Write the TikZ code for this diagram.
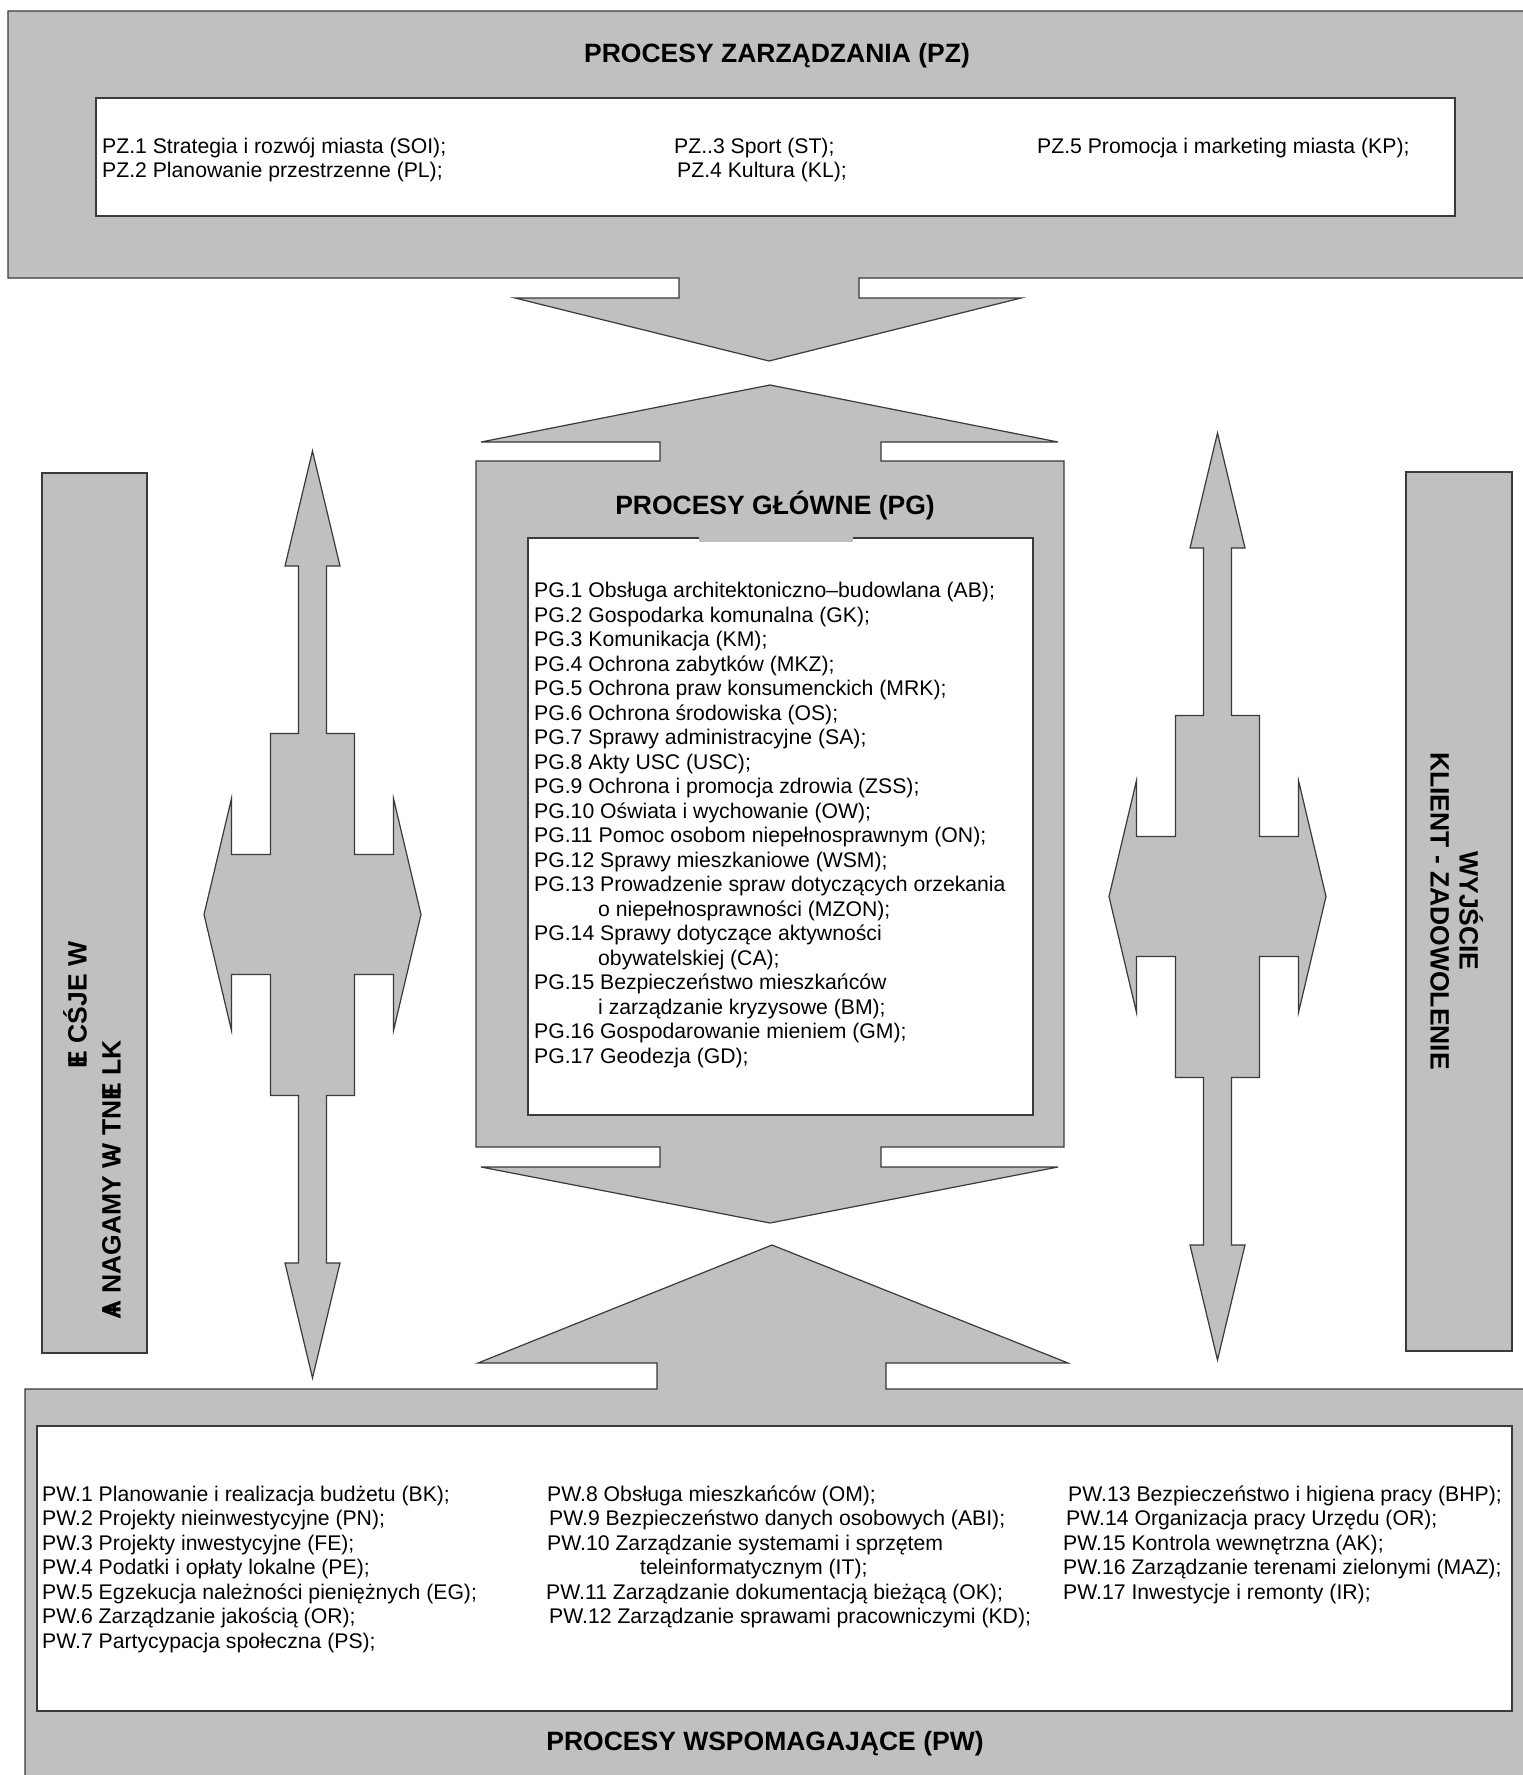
\documentclass[tikz,border=0pt]{standalone}
\usepackage{fontspec}
\setmainfont{Liberation Sans}
\definecolor{boxgray}{HTML}{C0C0C0}
\definecolor{edgegray}{HTML}{3A3A3A}
\newcommand\ovl[2]{\ooalign{#1\cr\hidewidth#2\hidewidth\cr}}
\begin{document}
\begin{tikzpicture}[x=1pt,y=-1pt,
  gshape/.style={fill=boxgray, draw=edgegray, line width=1.2pt, line join=miter},
  whitebox/.style={fill=white, draw=edgegray, line width=1.2pt},
  txt/.style={anchor=base west, inner sep=0pt, font=\fontsize{21.2}{24.5}\selectfont},
  ttl/.style={anchor=base, inner sep=0pt, font=\bfseries\fontsize{26.5}{29}\selectfont},
  quad/.pic={
    \draw[gshape] (0,-463.5) -- (27.5,-348.5) -- (14,-348.5) -- (14,-181) -- (42,-181) -- (42,-60)
      -- (81,-60) -- (81,-116) -- (108.5,0) -- (81,116) -- (81,60) -- (42,60) -- (42,181)
      -- (14,181) -- (14,348.5) -- (27.5,348.5) -- (0,463.5) -- (-27.5,348.5) -- (-14,348.5)
      -- (-14,181) -- (-42,181) -- (-42,60) -- (-81,60) -- (-81,116) -- (-108.5,0) -- (-81,-116)
      -- (-81,-60) -- (-42,-60) -- (-42,-181) -- (-14,-181) -- (-14,-348.5) -- (-27.5,-348.5) -- cycle;
  }]
\useasboundingbox (0,0) rectangle (1523,1775);
\clip (0,0) rectangle (1523,1775);
\fill[white] (0,0) rectangle (1523,1775);

% PZ box with down arrow
\draw[gshape] (1530,11) -- (8,11) -- (8,278) -- (679,278) -- (679,298) -- (515,298) -- (769,361)
  -- (1021,298) -- (859,298) -- (859,278) -- (1530,278);
\draw[whitebox] (96,98) rectangle (1455,216);

% PG shape
\draw[gshape] (770,385) -- (1058,442) -- (881,442) -- (881,461) -- (1064,461) -- (1064,1147)
  -- (881,1147) -- (881,1167) -- (1058,1167) -- (770,1223) -- (481,1167) -- (660,1167)
  -- (660,1147) -- (476,1147) -- (476,461) -- (660,461) -- (660,442) -- (481,442) -- cycle;
\draw[whitebox] (528,538) rectangle (1033,1115);
\fill[boxgray] (699,536.5) rectangle (853,541.5);

% PW shape
\draw[gshape] (772,1245) -- (1068,1363) -- (886,1363) -- (886,1389) -- (1530,1389) -- (1530,1780)
  -- (25,1780) -- (25,1389) -- (657,1389) -- (657,1363) -- (478,1363) -- cycle;
\draw[whitebox] (37,1426) rectangle (1512,1711);

% side boxes
\draw[gshape] (42,473) rectangle (147,1353);
\draw[gshape] (1406,472) rectangle (1512,1351);

% four-way arrows
\pic (leftarrow) at (312.5,914.5) {quad};
\pic (rightarrow) at (1217.5,896.5) {quad};

% titles
\node[ttl] (pzt) at (777,62.5) {PROCESY ZARZĄDZANIA (PZ)};
\node[ttl] (pgt) at (775,514) {PROCESY GŁÓWNE (PG)};
\node[ttl] (pwt) at (765,1750) {PROCESY WSPOMAGAJĄCE (PW)};

% side texts
\node[ttl, rotate=-90] (wy1) at (1459.5,911) {WYJŚCIE};
\node[ttl, rotate=-90] (wy2) at (1430.5,911) {KLIENT - ZADOWOLENIE};
\node[ttl, rotate=90] (we1) at (86.5,1005) {\ovl{E}{I} CŚJE W};
\node[ttl, rotate=90] (we2) at (120.5,1180) {\ovl{A}{I} NAGAMY \ovl{W}{-}  TN\ovl{E}{I} LK};

% PZ texts
\node[txt] (pz1) at (102,153) {PZ.1 Strategia i rozwój miasta (SOI);};
\node[txt] (pz2) at (102,177.5) {PZ.2 Planowanie przestrzenne (PL);};
\node[txt] (pz3) at (674,153) {PZ..3 Sport (ST);};
\node[txt] (pz4) at (677,177.5) {PZ.4 Kultura (KL);};
\node[txt] (pz5) at (1037,153) {PZ.5 Promocja i marketing miasta (KP);};

% PG texts
\foreach \ind/\t [count=\i] in {
  0/{PG.1 Obsługa architektoniczno–budowlana (AB);},
  0/{PG.2 Gospodarka komunalna (GK);},
  0/{PG.3 Komunikacja (KM);},
  0/{PG.4 Ochrona zabytków (MKZ);},
  0/{PG.5 Ochrona praw konsumenckich (MRK);},
  0/{PG.6 Ochrona środowiska (OS);},
  0/{PG.7 Sprawy administracyjne (SA);},
  0/{PG.8 Akty USC (USC);},
  0/{PG.9 Ochrona i promocja zdrowia (ZSS);},
  0/{PG.10 Oświata i wychowanie (OW);},
  0/{PG.11 Pomoc osobom niepełnosprawnym (ON);},
  0/{PG.12 Sprawy mieszkaniowe (WSM);},
  0/{PG.13 Prowadzenie spraw dotyczących orzekania},
  1/{o niepełnosprawności (MZON);},
  0/{PG.14 Sprawy dotyczące aktywności},
  1/{obywatelskiej (CA);},
  0/{PG.15 Bezpieczeństwo mieszkańców},
  1/{i zarządzanie kryzysowe (BM);},
  0/{PG.16 Gospodarowanie mieniem (GM);},
  0/{PG.17 Geodezja (GD);}}
  \node[txt] (pg\i) at ({534+64*\ind},{597.5+24.5*(\i-1)}) {\t};

% PW texts
\foreach \xx/\t [count=\i] in {
  42/{PW.1 Planowanie i realizacja budżetu (BK);},
  42/{PW.2 Projekty nieinwestycyjne (PN);},
  42/{PW.3 Projekty inwestycyjne (FE);},
  42/{PW.4 Podatki i opłaty lokalne (PE);},
  42/{PW.5 Egzekucja należności pieniężnych (EG);},
  42/{PW.6 Zarządzanie jakością (OR);},
  42/{PW.7 Partycypacja społeczna (PS);}}
  \node[txt] (pwa\i) at (\xx,{1501+24.5*(\i-1)}) {\t};
\foreach \xx/\t [count=\i] in {
  547/{PW.8 Obsługa mieszkańców (OM);},
  549/{PW.9 Bezpieczeństwo danych osobowych (ABI);},
  547/{PW.10 Zarządzanie systemami i sprzętem},
  640/{teleinformatycznym (IT);},
  546/{PW.11 Zarządzanie dokumentacją bieżącą (OK);},
  549/{PW.12 Zarządzanie sprawami pracowniczymi (KD);}}
  \node[txt] (pwb\i) at (\xx,{1501+24.5*(\i-1)}) {\t};
\foreach \xx/\t [count=\i] in {
  1068/{PW.13 Bezpieczeństwo i higiena pracy (BHP);},
  1066/{PW.14 Organizacja pracy Urzędu (OR);},
  1063/{PW.15 Kontrola wewnętrzna (AK);},
  1063/{PW.16 Zarządzanie terenami zielonymi (MAZ);},
  1063/{PW.17 Inwestycje i remonty (IR);}}
  \node[txt] (pwc\i) at (\xx,{1501+24.5*(\i-1)}) {\t};
\end{tikzpicture}
\end{document}
